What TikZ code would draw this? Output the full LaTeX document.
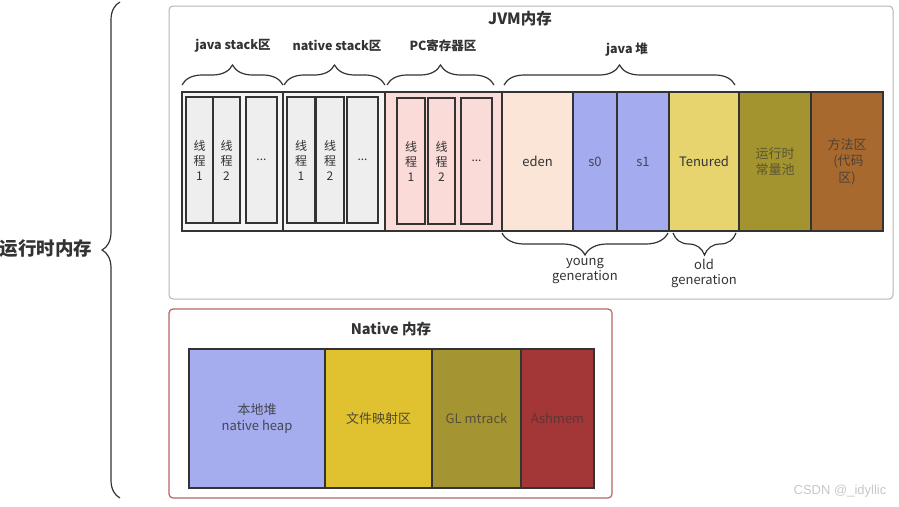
\documentclass[tikz,border=0pt]{standalone}
\usepackage{fontspec}
\setmainfont{Noto Sans CJK SC}
\newfontfamily\wmfont{Liberation Sans}
\usetikzlibrary{decorations.pathreplacing}

\definecolor{linec}{HTML}{333333}
\definecolor{txt}{HTML}{333333}
\definecolor{jvmline}{HTML}{B3B3B3}
\definecolor{natline}{HTML}{B06664}
\definecolor{grp}{HTML}{F5F5F5}
\definecolor{stk}{HTML}{EEEEEE}
\definecolor{pinkc}{HTML}{FADBD8}
\definecolor{edenc}{HTML}{FBE5D7}
\definecolor{survc}{HTML}{A5ABEF}
\definecolor{tenc}{HTML}{E7D46E}
\definecolor{olivec}{HTML}{A39430}
\definecolor{brownc}{HTML}{A8692F}
\definecolor{heapc}{HTML}{A5ADEF}
\definecolor{filec}{HTML}{E0C230}
\definecolor{glc}{HTML}{A59532}
\definecolor{ashc}{HTML}{A33636}

\begin{document}
\begin{tikzpicture}[x=1pt,y=-1pt,
  font=\fontsize{13}{16}\selectfont,
  blk/.style={draw=linec, line width=1.1pt, outer sep=0pt, inner sep=1pt,
    anchor=north west, align=center, text=txt},
  thr/.style={blk, fill=stk, minimum height=126, font=\fontsize{12}{15}\selectfont},
  pcthr/.style={thr, fill=pinkc},
  heading/.style={font=\bfseries\fontsize{12.5}{14}\selectfont, text=txt},
  caption/.style={align=center, text=txt, font=\fontsize{13}{15}\selectfont},
  brc/.style={decorate, decoration={brace, amplitude=#1}, draw=linec, line width=1.2pt},
  brc/.default=20]
\useasboundingbox (0,0) rectangle (899,506);

% outer frames
\node[draw=jvmline, line width=1pt, rounded corners=4pt, minimum width=724,
  minimum height=293, anchor=north west, outer sep=0pt] (jvm) at (169,6) {};
\node[draw=natline, line width=1.2pt, rounded corners=4pt, minimum width=443,
  minimum height=189, anchor=north west, outer sep=0pt] (nat) at (169,309) {};
\node[font=\bfseries\fontsize{15.5}{17}\selectfont, text=txt] (jvmt) at (520,19) {JVM内存};
\node[font=\bfseries\fontsize{14.5}{17}\selectfont, text=txt] (natt) at (391,329) {Native 内存};

% runtime memory brace and label
\coordinate (rb) at (120,498);
\coordinate (rt) at (120,2);
\draw[brc=18] (rb) -- (rt);
\node[font=\bfseries\fontsize{18.5}{21}\selectfont, text=txt, anchor=east] (rt0) at (96,249) {运行时内存};

% thread stacks
\node[blk, fill=grp, minimum width=101, minimum height=139] (jsg) at (182,92) {};
\node[thr, minimum width=27] (js1) at (186,97) {线\\程\\1};
\node[thr, minimum width=27] (js2) at (213,97) {线\\程\\2};
\node[thr, minimum width=31] (js3) at (246,97) {...};

\node[blk, fill=grp, minimum width=102, minimum height=139] (nsg) at (283,92) {};
\node[thr, minimum width=28] (ns1) at (287,97) {线\\程\\1};
\node[thr, minimum width=28] (ns2) at (316,97) {线\\程\\2};
\node[thr, minimum width=31] (ns3) at (347,97) {...};

\node[blk, fill=pinkc, minimum width=117, minimum height=139] (pcg) at (385,92) {};
\node[pcthr, minimum width=28] (pc1) at (397,98) {线\\程\\1};
\node[pcthr, minimum width=27] (pc2) at (428,98) {线\\程\\2};
\node[pcthr, minimum width=31] (pc3) at (461,98) {...};

% java heap and method areas
\node[blk, fill=edenc, minimum width=71, minimum height=139] (eden) at (502,92) {eden};
\node[blk, fill=survc, minimum width=44, minimum height=139, text=txt!85!survc] (s0) at (573,92) {s0};
\node[blk, fill=survc, minimum width=52, minimum height=139, text=txt!85!survc] (s1) at (617,92) {s1};
\node[blk, fill=tenc, minimum width=70, minimum height=139] (ten) at (669,92) {Tenured};
\node[blk, fill=olivec, minimum width=72, minimum height=139, text=txt!65!olivec,
  font=\fontsize{13}{16}\selectfont] (rcp) at (739,92) {运行时\\常量池};
\node[blk, fill=brownc, minimum width=72, minimum height=139, text=txt!75!brownc,
  font=\fontsize{13}{16.5}\selectfont] (meth) at (811,92) {方法区\\\ (代码\\区)};

% native memory blocks
\node[blk, fill=heapc, minimum width=136, minimum height=139, text=txt!85!heapc] (nh) at (189,349) {本地堆\\native heap};
\node[blk, fill=filec, minimum width=107, minimum height=139, text=txt!85!filec] (fm) at (325,349) {文件映射区};
\node[blk, fill=glc, minimum width=89, minimum height=139, text=txt!70!glc] (gl) at (432,349) {GL mtrack};
\node[blk, fill=ashc, minimum width=73, minimum height=139, text=txt!60!ashc] (ash) at (521,349) {Ashmem};

% group braces above
\coordinate (b1a) at (182,85); \coordinate (b1b) at (283,85);
\coordinate (b2a) at (284,85); \coordinate (b2b) at (385,85);
\coordinate (b3a) at (387,85); \coordinate (b3b) at (494,85);
\coordinate (b4a) at (504,85); \coordinate (b4b) at (735,85);
\draw[brc] (b1a) -- (b1b);
\draw[brc] (b2a) -- (b2b);
\draw[brc] (b3a) -- (b3b);
\draw[brc] (b4a) -- (b4b);
\node[heading] (l1) at (233,46) {java stack区};
\node[heading] (l2) at (337,46) {native stack区};
\node[heading] (l3) at (443,46) {PC寄存器区};
\node[heading] (l4) at (627,50) {java 堆};

% generation braces below
\coordinate (y1) at (668,233); \coordinate (y2) at (502,233);
\coordinate (o1) at (736,233); \coordinate (o2) at (673,233);
\draw[brc=22] (y1) -- (y2);
\draw[brc=22] (o1) -- (o2);
\node[caption] (yg) at (585,271) {young\\generation};
\node[caption] (og) at (704,273) {old\\generation};

% watermark
\node[text=black!22, font=\wmfont\fontsize{13}{15}\selectfont] (wm) at (840,491) {CSDN @\_idyllic};
\end{tikzpicture}
\end{document}
